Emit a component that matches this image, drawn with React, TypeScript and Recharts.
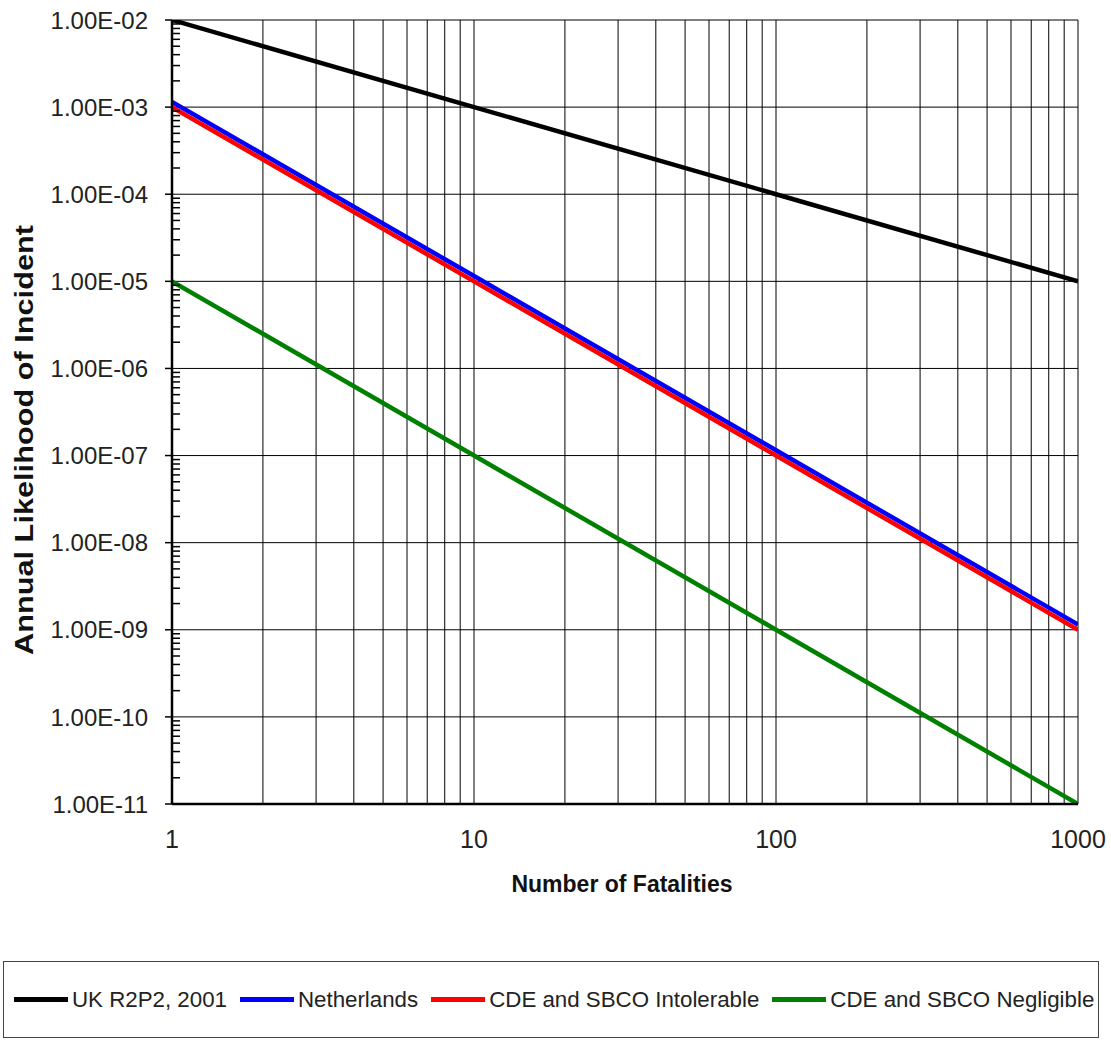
import { LineChart, Line, XAxis, YAxis, CartesianGrid, ReferenceLine } from 'recharts'

// F-N curve: number of fatalities vs annual likelihood
const fatalities = [1, 10, 100, 1000]
const ukR2P2 = [1e-2, 1e-3, 1e-4, 1e-5]
const netherlands = [1.15e-3, 1.15e-5, 1.15e-7, 1.15e-9]
const cdeIntolerable = [1e-3, 1e-5, 1e-7, 1e-9]
const cdeNegligible = [1e-5, 1e-7, 1e-9, 1e-11]

const xTicks = [1, 2, 3, 4, 5, 6, 7, 8, 9, 10, 20, 30, 40, 50, 60, 70, 80, 90, 100, 200, 300, 400, 500, 600, 700, 800, 900, 1000]
const yMajor = [1e-11, 1e-10, 1e-9, 1e-8, 1e-7, 1e-6, 1e-5, 1e-4, 1e-3, 1e-2]
const minorSteps = [2, 3, 4, 5, 6, 7, 8, 9]
const yMinor = yMajor.slice(0, -1).flatMap((d) => minorSteps.map((s) => s * d))

const series = [
  { key: 'uk', name: 'UK R2P2, 2001', color: '#000000' },
  { key: 'nl', name: 'Netherlands', color: '#0000ff' },
  { key: 'intol', name: 'CDE and SBCO Intolerable', color: '#ff0000' },
  { key: 'neg', name: 'CDE and SBCO Negligible', color: '#008000' },
]

const data = fatalities.map((n, i) => ({
  n,
  uk: ukR2P2[i],
  nl: netherlands[i],
  intol: cdeIntolerable[i],
  neg: cdeNegligible[i],
}))

const FONT = '"Liberation Sans", Arial, sans-serif'

const isDecade = (v: number) => Math.abs(Math.log10(v) - Math.round(Math.log10(v))) < 1e-6

const sci = (v: number) => {
  const [m, e] = v.toExponential(2).split('e')
  const n = parseInt(e, 10)
  return `${m}E${n < 0 ? '-' : '+'}${String(Math.abs(n)).padStart(2, '0')}`
}

function YTick(props: any) {
  const { x, y, payload } = props
  const v = payload.value
  if (isDecade(v)) {
    return (
      <g>
        <line x1={x - 7} x2={x} y1={y} y2={y} stroke="#000" strokeWidth={1.5} />
        <text x={x - 24} y={y} dy="0.36em" textAnchor="end" fontSize={24} fontFamily={FONT} fill="#222">
          {sci(v)}
        </text>
      </g>
    )
  }
  return <line x1={x} x2={x + 8} y1={y} y2={y} stroke="#000" strokeWidth={1.5} />
}

function XTick(props: any) {
  const { x, y, payload } = props
  if (!isDecade(payload.value)) return null
  return (
    <text x={x} y={y + 44} textAnchor="middle" fontSize={25} fontFamily={FONT} fill="#222">
      {payload.value}
    </text>
  )
}

function LegendBox() {
  return (
    <div
      style={{
        position: 'absolute',
        left: 3,
        top: 961,
        width: 1096,
        height: 77,
        boxSizing: 'border-box',
        border: '1px solid #444',
        display: 'flex',
        alignItems: 'center',
        paddingLeft: 10,
        fontFamily: FONT,
        fontSize: 22.3,
        color: '#222',
        whiteSpace: 'nowrap',
      }}
    >
      {series.map((s) => (
        <div key={s.key} style={{ display: 'flex', alignItems: 'center', marginRight: 13, flexShrink: 0 }}>
          <span style={{ display: 'inline-block', width: 54, height: 4.5, background: s.color, marginRight: 4 }} />
          <span>{s.name}</span>
        </div>
      ))}
    </div>
  )
}

export default function App() {
  return (
    <div style={{ position: 'absolute', left: 0, top: 0, width: 1111, height: 1042, background: '#fff' }}>
      <LineChart width={1111} height={920} data={data} margin={{ top: 20, right: 33, left: 0, bottom: 16 }}>
        <CartesianGrid horizontal={false} stroke="#000" strokeWidth={1} />
        {yMajor.map((v) => (
          <ReferenceLine key={v} y={v} stroke="#000" strokeWidth={1} />
        ))}
        <XAxis
          dataKey="n"
          type="number"
          scale="log"
          domain={[1, 1000]}
          ticks={xTicks}
          interval={0}
          tickLine={false}
          tickSize={0}
          tickMargin={0}
          tick={<XTick />}
          axisLine={{ stroke: '#000', strokeWidth: 2.5 }}
          height={100}
          allowDataOverflow
          label={{
            value: 'Number of Fatalities',
            position: 'insideBottom',
            offset: 12,
            fontSize: 23,
            fontWeight: 'bold',
            fontFamily: FONT,
            fill: '#111',
            dx: -3,
          }}
        />
        <YAxis
          type="number"
          scale="log"
          domain={[1e-11, 1e-2]}
          ticks={[...yMajor, ...yMinor]}
          interval={0}
          tickLine={false}
          tickSize={0}
          tickMargin={0}
          tick={<YTick />}
          axisLine={{ stroke: '#000', strokeWidth: 2.5 }}
          width={172}
          allowDataOverflow
          label={{
            content: (p: any) => {
              const vb = p.viewBox
              const cy = vb.y + vb.height / 2 + 28
              return (
                <text
                  x={33}
                  y={cy}
                  transform={`rotate(-90, 33, ${cy})`}
                  textAnchor="middle"
                  fontSize={26}
                  fontWeight="bold"
                  fontFamily={FONT}
                  fill="#111"
                  textLength={430}
                  lengthAdjust="spacingAndGlyphs"
                >
                  Annual Likelihood of Incident
                </text>
              )
            },
          }}
        />
        {series.map((s) => (
          <Line
            key={s.key}
            dataKey={s.key}
            name={s.name}
            type="linear"
            stroke={s.color}
            strokeWidth={4.5}
            dot={false}
            isAnimationActive={false}
          />
        ))}
      </LineChart>
      <LegendBox />
    </div>
  )
}
